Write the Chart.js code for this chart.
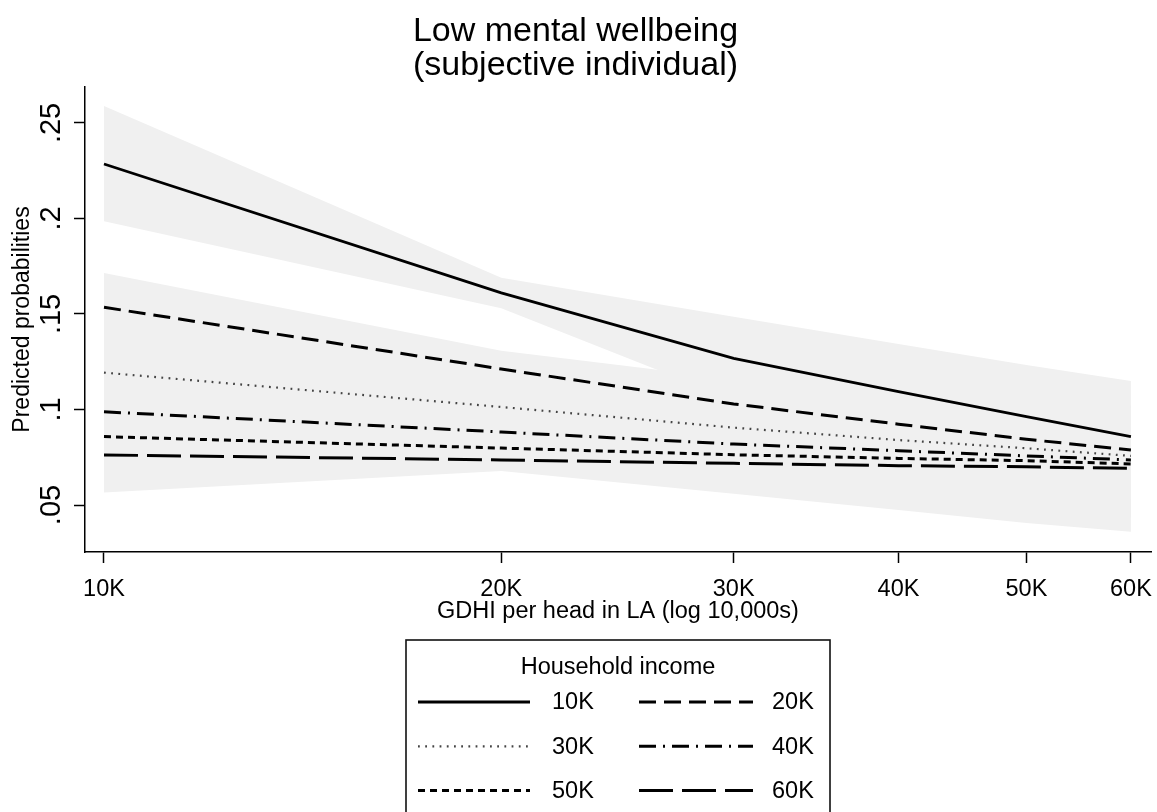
<!DOCTYPE html>
<html>
<head>
<meta charset="utf-8">
<script src="https://cdn.jsdelivr.net/npm/chart.js@4.4.1/dist/chart.umd.min.js"></script>
<style>
  html, body { margin: 0; padding: 0; background: #ffffff; }
  #wrap { width: 1157px; height: 812px; position: relative; }
</style>
</head>
<body>
<div id="wrap"><canvas id="chart"></canvas></div>
<script>
// GDHI per head in the local authority (x, log scale)
const gdhi = [10000, 20000, 30000, 40000, 50000, 60000];
const xTickValues = [10000, 20000, 30000, 40000, 50000, 60000];
const xTickLabels = ['10K', '20K', '30K', '40K', '50K', '60K'];
const yTickValues = [0.05, 0.10, 0.15, 0.20, 0.25];
const yTickLabels = ['.05', '.1', '.15', '.2', '.25'];

// Household income groups
const incomeGroups = ['10K', '20K', '30K', '40K', '50K', '60K'];

// Predicted probabilities of low mental wellbeing
const p10K = [0.2285, 0.1610, 0.1268, 0.1093, 0.0962, 0.0858];
const p20K = [0.1535, 0.1212, 0.1029, 0.0923, 0.0844, 0.0788];
const p30K = [0.1193, 0.1013, 0.0905, 0.0840, 0.0797, 0.0757];
const p40K = [0.0988, 0.0882, 0.0819, 0.0784, 0.0757, 0.0736];
const p50K = [0.0858, 0.0798, 0.0763, 0.0744, 0.0732, 0.0715];
const p60K = [0.0762, 0.0736, 0.0718, 0.0706, 0.0700, 0.0692];

// 95% confidence limits
const lo10K = [0.1985, 0.1530, 0.1050, 0.0840, 0.0690, 0.0570];
const hi10K = [0.2588, 0.1690, 0.1486, 0.1343, 0.1233, 0.1149];
const lo20K = [0.1355, 0.1105, 0.0899, 0.0763, 0.0654, 0.0568];
const hi20K = [0.1715, 0.1307, 0.1159, 0.1083, 0.1034, 0.1008];
const lo30K = [0.1008, 0.0923, 0.0815, 0.0720, 0.0647, 0.0577];
const hi30K = [0.1378, 0.1125, 0.0995, 0.0960, 0.0947, 0.0937];
const lo40K = [0.0788, 0.0802, 0.0739, 0.0674, 0.0607, 0.0536];
const hi40K = [0.1188, 0.0962, 0.0899, 0.0894, 0.0907, 0.0936];
const lo50K = [0.0638, 0.0708, 0.0653, 0.0584, 0.0512, 0.0435];
const hi50K = [0.1078, 0.0888, 0.0873, 0.0904, 0.0952, 0.0995];
const lo60K = [0.0566, 0.0678, 0.0559, 0.0474, 0.0406, 0.0360];
const hi60K = [0.0958, 0.0794, 0.0877, 0.0938, 0.0994, 0.1024];

const estimates = [p10K, p20K, p30K, p40K, p50K, p60K];
const lowers = [lo10K, lo20K, lo30K, lo40K, lo50K, lo60K];
const uppers = [hi10K, hi20K, hi30K, hi40K, hi50K, hi60K];

const FONT = '"Liberation Sans", Arial, Helvetica, sans-serif';
const BAND = '#f0f0f0';

// Line pattern for each income group
const lineStyles = [
  { dash: [],            color: '#000000', width: 2.8 },
  { dash: [17, 8],       color: '#000000', width: 3.0 },
  { dash: [1.8, 5.4],    color: '#444444', width: 2.2 },
  { dash: [17, 7, 2, 7], color: '#000000', width: 3.0 },
  { dash: [7, 5],        color: '#000000', width: 3.0 },
  { dash: [34, 9],       color: '#000000', width: 3.0 }
];

const toPoints = arr => arr.map((v, i) => ({ x: gdhi[i], y: v }));

const datasets = [];
incomeGroups.forEach((g, k) => {
  datasets.push({
    label: 'upper ' + g, data: toPoints(uppers[k]), order: 2,
    borderWidth: 0, pointRadius: 0, backgroundColor: BAND, fill: '+1', tension: 0
  });
  datasets.push({
    label: 'lower ' + g, data: toPoints(lowers[k]), order: 2,
    borderWidth: 0, pointRadius: 0, backgroundColor: BAND, fill: false, tension: 0
  });
});
const lineStart = datasets.length;
incomeGroups.forEach((g, k) => {
  const s = lineStyles[k];
  datasets.push({
    label: g, data: toPoints(estimates[k]), order: 1,
    borderColor: s.color, borderWidth: s.width, borderDash: s.dash,
    borderCapStyle: 'butt', pointRadius: 0, fill: false, tension: 0
  });
});

// Boxed two-column legend under the x axis title
const boxedLegend = {
  id: 'boxedLegend',
  afterDraw(chart) {
    const ctx = chart.ctx;
    ctx.save();
    ctx.strokeStyle = '#111';
    ctx.lineWidth = 1.6;
    ctx.strokeRect(406, 640, 424, 220);
    ctx.fillStyle = '#000';
    ctx.font = '23.5px ' + FONT;
    ctx.textAlign = 'center';
    ctx.textBaseline = 'middle';
    ctx.fillText('Household income', 618, 668);
    ctx.textAlign = 'left';
    for (let k = 0; k < incomeGroups.length; k++) {
      const ds = chart.data.datasets[lineStart + k];
      const col = k % 2, row = Math.floor(k / 2);
      const y = 702 + row * 44.3;
      const x0 = col ? 639 : 418, x1 = col ? 753 : 530;
      ctx.beginPath();
      ctx.setLineDash(ds.borderDash);
      ctx.lineCap = 'butt';
      ctx.strokeStyle = ds.borderColor;
      ctx.lineWidth = ds.borderWidth;
      ctx.moveTo(x0, y);
      ctx.lineTo(x1, y);
      ctx.stroke();
      ctx.setLineDash([]);
      ctx.fillStyle = '#000';
      ctx.fillText(ds.label, col ? 772 : 552, y + 1);
    }
    ctx.restore();
  }
};

Chart.defaults.font.family = FONT;
Chart.defaults.color = '#000';

new Chart(document.getElementById('chart'), {
  type: 'line',
  data: { datasets },
  plugins: [boxedLegend],
  options: {
    responsive: true,
    maintainAspectRatio: false,
    animation: false,
    layout: { padding: { left: 0, right: 6, top: 0, bottom: 180 } },
    plugins: {
      legend: { display: false },
      tooltip: { enabled: false },
      title: {
        display: true,
        text: ['Low mental wellbeing', '(subjective individual)'],
        color: '#000',
        font: { size: 34, weight: 'normal', lineHeight: 1.0 },
        padding: { top: 15, bottom: 4 }
      }
    },
    scales: {
      x: {
        type: 'logarithmic',
        min: 9674,
        max: 62140,
        afterBuildTicks: s => { s.ticks = xTickValues.map(v => ({ value: v })); },
        afterFit: s => { s.height = 80; s.paddingLeft = 0; s.paddingRight = 0; },
        ticks: {
          autoSkip: false, maxRotation: 0, minRotation: 0, padding: 12,
          font: { size: 23.5 }, color: '#000',
          callback: (v, i) => xTickLabels[i]
        },
        grid: { display: true, drawOnChartArea: false, drawTicks: true, tickLength: 11, tickWidth: 1.5, tickColor: '#000' },
        border: { display: true, color: '#000', width: 1.5 },
        title: {
          display: true, text: 'GDHI per head in LA (log 10,000s)',
          font: { size: 23.5 }, color: '#000', padding: { top: 0, bottom: 6 }
        }
      },
      y: {
        type: 'linear',
        min: 0.0254,
        max: 0.2688,
        afterBuildTicks: s => { s.ticks = yTickValues.map(v => ({ value: v })); },
        afterFit: s => { s.width = 85; s.paddingTop = 0; s.paddingBottom = 0; },
        ticks: {
          autoSkip: false, minRotation: 90, maxRotation: 90, crossAlign: 'center', padding: 2,
          font: { size: 29 }, color: '#000',
          callback: (v, i) => yTickLabels[i]
        },
        grid: { display: true, drawOnChartArea: false, drawTicks: true, tickLength: 11, tickWidth: 1.5, tickColor: '#000' },
        border: { display: true, color: '#000', width: 1.5 },
        title: {
          display: true, text: 'Predicted probabilities',
          font: { size: 23 }, color: '#000', padding: { top: 9, bottom: 0 }
        }
      }
    }
  }
});
</script>
</body>
</html>
